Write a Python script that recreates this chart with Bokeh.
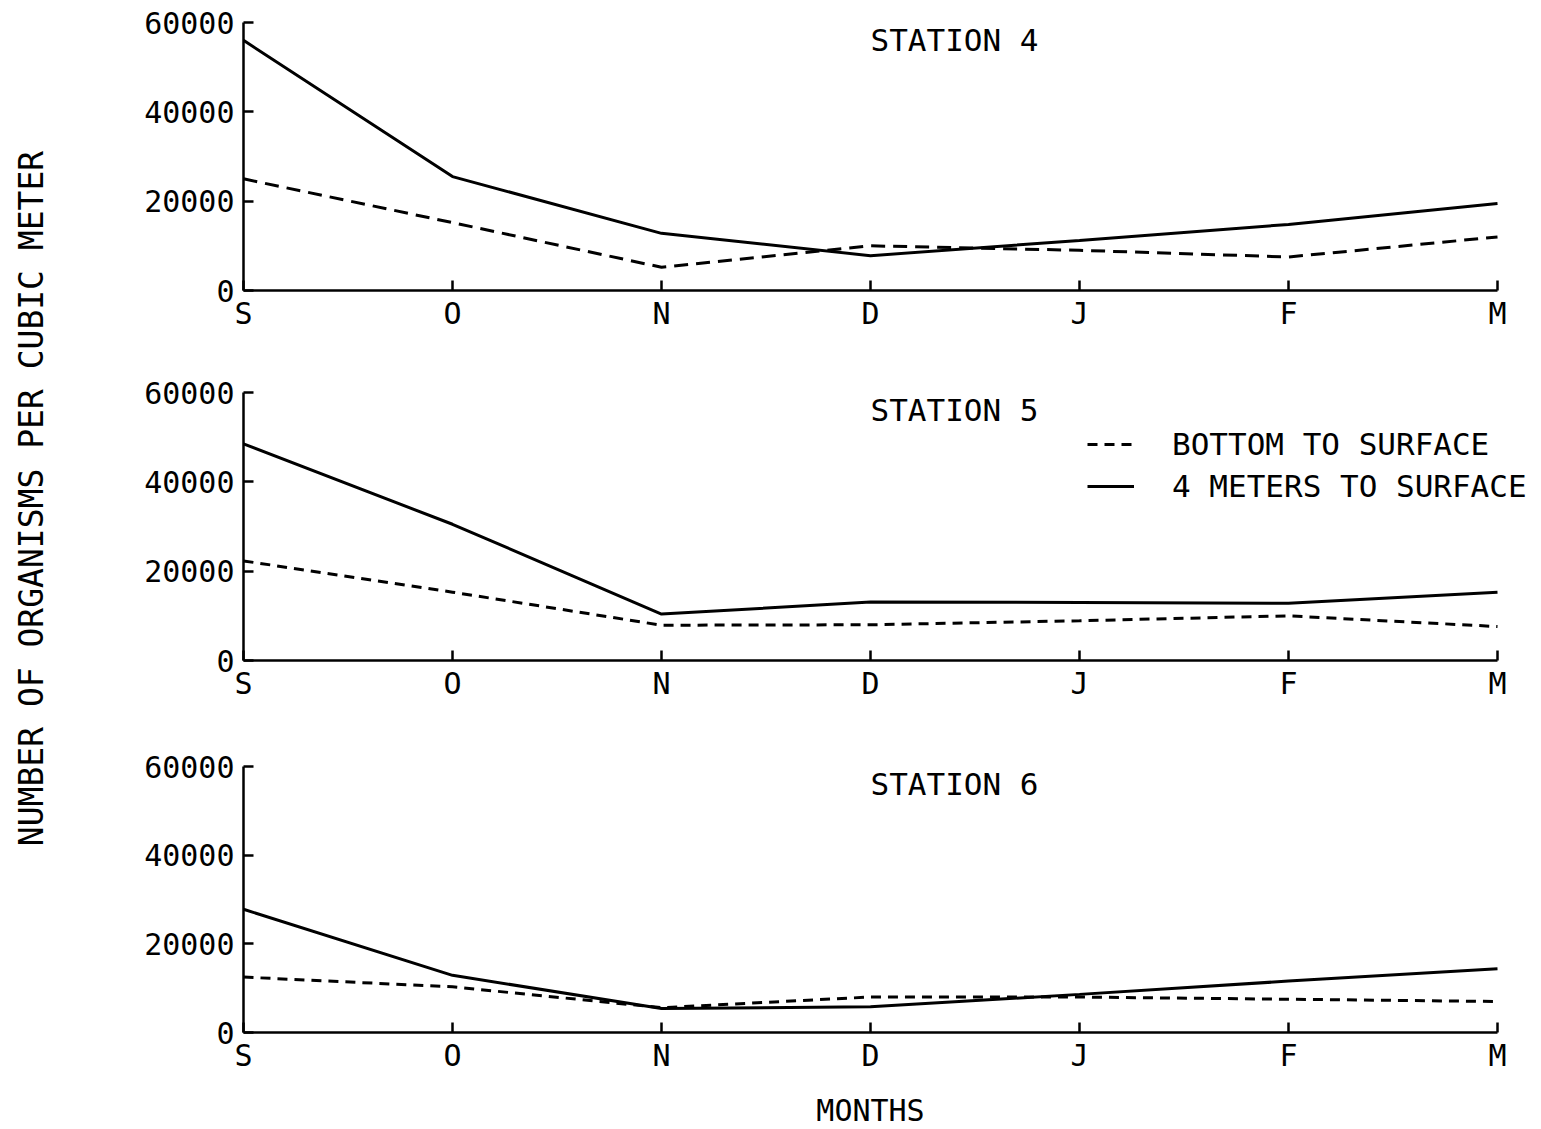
from bokeh.plotting import figure
from bokeh.layouts import row, column
from bokeh.models import (Range1d, FixedTicker, Label, Legend, LegendItem)
from bokeh.embed import file_html
from bokeh.resources import INLINE

# ---------------- data ----------------
months = ["S", "O", "N", "D", "J", "F", "M"]
y_ticks = [0, 20000, 40000, 60000]

station_names = ["STATION 4", "STATION 5", "STATION 6"]

st4_bottom = [25000, 15200, 5200, 10000, 9000, 7500, 12000]
st4_four_m = [56000, 25500, 12800, 7800, 11200, 14800, 19500]

st5_bottom = [22300, 15300, 7900, 8000, 8900, 10000, 7600]
st5_four_m = [48500, 30500, 10400, 13100, 13000, 12800, 15300]

st6_bottom = [12500, 10300, 5600, 8000, 8000, 7500, 7000]
st6_four_m = [27800, 12900, 5400, 5800, 8600, 11600, 14400]

series_labels = ["BOTTOM TO SURFACE", "4 METERS TO SURFACE"]
y_label = "NUMBER OF ORGANISMS PER CUBIC METER"
x_label = "MONTHS"

FONT = "DejaVu Sans Mono"
xs = list(range(len(months)))

# frame geometry: axis runs S..M over 1254 px; frames are extended to the right so
# the legend (which overhangs the last month) is not clipped
AXIS_PX = 1254
FRAME_PX_EXT = 1290
X_LAST = len(months) - 1
X_END = X_LAST * FRAME_PX_EXT / AXIS_PX


def panel(height, b_top, b_bottom, title, bottom_vals, top_vals, dash, show_legend=False):
    p = figure(width=1465, height=height, output_backend="svg", toolbar_location=None,
               x_range=Range1d(0, X_END), y_range=Range1d(0, 60000),
               min_border_left=175, min_border_right=0,
               min_border_top=b_top, min_border_bottom=b_bottom)
    p.outline_line_color = None
    p.grid.visible = False
    p.background_fill_color = "white"
    p.border_fill_color = "white"

    for ax in (p.xaxis[0], p.yaxis[0]):
        ax.axis_line_width = 2.5
        ax.axis_line_color = "black"
        ax.major_tick_line_width = 2.5
        ax.major_tick_line_color = "black"
        ax.major_tick_in = 10
        ax.major_tick_out = 0
        ax.minor_tick_line_color = None
        ax.major_label_text_font = FONT
        ax.major_label_text_font_size = "30px"
        ax.major_label_text_color = "black"

    p.xaxis.bounds = (0, X_LAST)
    p.xaxis.major_label_standoff = 5
    p.yaxis.major_label_standoff = 9
    p.xaxis.ticker = FixedTicker(ticks=xs)
    p.xaxis.major_label_overrides = {i: m for i, m in enumerate(months)}
    p.yaxis.ticker = FixedTicker(ticks=y_ticks)
    p.yaxis.major_label_overrides = {v: str(v) for v in y_ticks}

    r_dash = p.line(xs, bottom_vals, line_color="black", line_width=3, line_dash=dash)
    r_solid = p.line(xs, top_vals, line_color="black", line_width=3)

    p.add_layout(Label(x=3, y=56000, text=title, text_font=FONT, text_font_size="31px",
                       text_align="left", text_baseline="middle", text_color="black"))

    if show_legend:
        leg = Legend(items=[LegendItem(label=series_labels[0], renderers=[r_dash]),
                            LegendItem(label=series_labels[1], renderers=[r_solid])],
                     location=(844, 153), orientation="vertical",
                     label_text_font=FONT, label_text_font_size="31px", label_text_color="black",
                     glyph_width=47, glyph_height=42, label_height=42, label_standoff=38,
                     spacing=0, padding=0, margin=0,
                     border_line_color=None, background_fill_alpha=0)
        p.add_layout(leg, "center")
    return p


p1 = panel(340, 22, 50, station_names[0], st4_bottom, st4_four_m, "14 8")
p2 = panel(370, 52, 50, station_names[1], st5_bottom, st5_four_m, "10 7", show_legend=True)
p3 = panel(372, 56, 50, station_names[2], st6_bottom, st6_four_m, "10 7")

# strip below the last panel carrying the x-axis title, centred on the month axis
MONTHS_H = 45
mf = figure(width=1465, height=MONTHS_H, output_backend="svg", toolbar_location=None,
            x_range=Range1d(0, X_END), y_range=Range1d(0, MONTHS_H),
            min_border_left=175, min_border_right=0, min_border_top=0, min_border_bottom=0)
mf.outline_line_color = None
mf.axis.visible = False
mf.grid.visible = False
mf.add_layout(Label(x=X_LAST / 2, y=17, text=x_label, text_font=FONT, text_font_size="30px",
                    text_align="center", text_baseline="middle", text_color="black"))

TOTAL_H = 340 + 370 + 372 + MONTHS_H

# narrow figure carrying the shared y-axis label
lab = figure(width=68, height=TOTAL_H, output_backend="svg", toolbar_location=None,
             x_range=Range1d(0, 68), y_range=Range1d(0, TOTAL_H),
             min_border=0)
lab.outline_line_color = None
lab.axis.visible = False
lab.grid.visible = False
lab.add_layout(Label(x=31, y=TOTAL_H - 498, text=y_label, angle=90, angle_units="deg",
                     text_font=FONT, text_font_size="33px", text_align="center",
                     text_baseline="middle", text_color="black"))

layout = row(lab, column(p1, p2, p3, mf))

open("out.html", "w").write(file_html(layout, INLINE))
